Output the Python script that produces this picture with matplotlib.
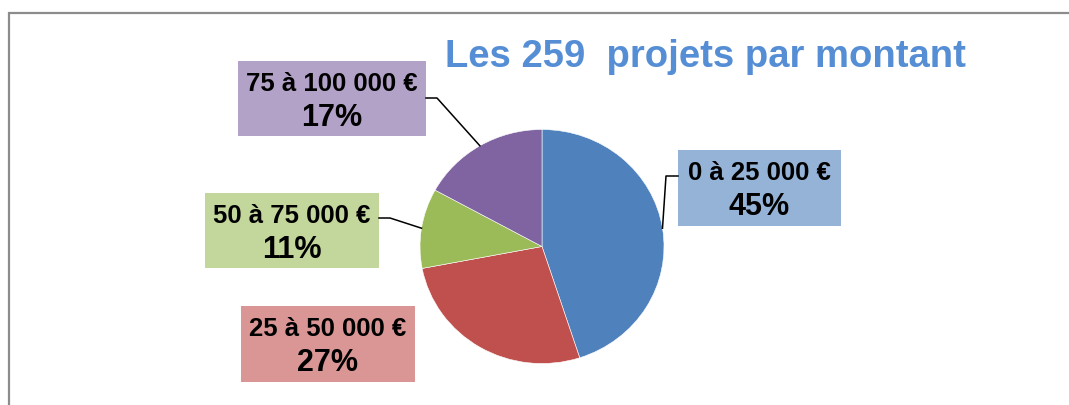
import numpy as np
import matplotlib
matplotlib.use('Agg')
import matplotlib.pyplot as plt
from matplotlib.patches import Rectangle

plt.rcParams['font.family'] = ['Liberation Sans', 'DejaVu Sans']

# data
categories = ['0 à 25 000 €', '25 à 50 000 €', '50 à 75 000 €', '75 à 100 000 €']
shares = [45, 27, 11, 17]
title = 'Les 259  projets par montant'

slice_colors = ['#4F81BD', '#C0504D', '#9BBB59', '#8064A2']
box_colors = ['#95B3D7', '#D99694', '#C3D69B', '#B3A2C7']

W, H = 1069, 406
fig = plt.figure(figsize=(W / 100, H / 100), dpi=100)
fig.patch.set_facecolor('white')

# pie, slightly elliptical like the original
cx, cy, rx, ry = 542, 247.5, 122, 117
ax = fig.add_axes([(cx - rx) / W, (H - cy - ry) / H, 2 * rx / W, 2 * ry / H])
wedges, _ = ax.pie(shares, colors=slice_colors, startangle=90, counterclock=False,
                   radius=1, wedgeprops=dict(edgecolor='white', linewidth=0.4))
ax.set_aspect('auto')
ax.set_xlim(-1, 1)
ax.set_ylim(-1, 1)
ax.axis('off')

# overlay in pixel coords for labels, frame and title
ov = fig.add_axes([0, 0, 1, 1])
ov.set_xlim(0, W)
ov.set_ylim(H, 0)
ov.axis('off')

ov.plot([9, 9, W], [H, 14, 14], color='#8C8C8C', lw=1.6, solid_joinstyle='miter')
ov.text(705, 67, title, ha='center', va='baseline', fontsize=27.5,
        fontweight='bold', color='#558ED5')

# label boxes: (left, top, width, height), leader side, elbow y
boxes = [(678, 151, 163, 76), (241, 307, 174, 76), (205, 194, 174, 75), (238, 62, 188, 75)]
leaders = [('left', 177), (None, None), ('right', 219), ('right', 99)]

for i, (cat, v) in enumerate(zip(categories, shares)):
    x0, y0, bw, bh = boxes[i]
    ov.add_patch(Rectangle((x0, y0), bw, bh, facecolor=box_colors[i], edgecolor='none'))
    xc = x0 + bw / 2
    ov.text(xc, y0 + 29, cat, ha='center', va='baseline', fontsize=18.5, fontweight='bold')
    ov.text(xc, y0 + 64.5, f'{v}%', ha='center', va='baseline', fontsize=22, fontweight='bold')

    side, ey = leaders[i]
    if side is None:
        continue
    w = wedges[i]
    mid = np.deg2rad((w.theta1 + w.theta2) / 2)
    px, py = ax.transData.transform((np.cos(mid), np.sin(mid)))
    py = H - py
    if side == 'left':
        bx, ex = x0, x0 - 12
    else:
        bx, ex = x0 + bw, x0 + bw + 11
    ov.plot([bx, ex, px], [ey, ey, py], color='black', lw=1.1)

fig.savefig('out.png', dpi=100, facecolor='white')
